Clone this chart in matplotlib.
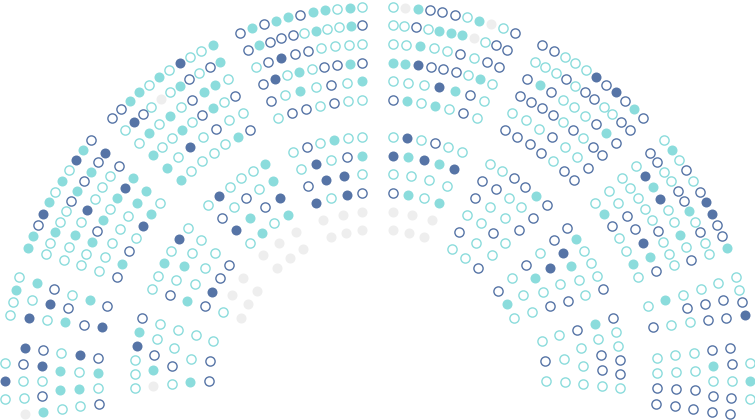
import numpy as np
import matplotlib.pyplot as plt

TEAL = "#8bdcdc"
NAVY = "#5674a6"
GREY = "#eeeeee"

# Seats per sector, outer row first, each row read left to right (clockwise).
# t / n = open teal / navy, T / N = filled teal / navy, g = vacant, . = no seat
outer_1 = [".tNt.", "gttnN", "TntNn", "tTTt", "tTtN", "ntTn"]
outer_2 = ["ttTt", "NtT", "tNn", "Tnt", "nT", "Nn"]
outer_3 = ["TTnNTtTtNTn", "ttTttnTnTnN", "ttTtNtttn", "ttTnTtTNT", "tttttTT", "nTntNTt"]
outer_4 = ["nnTTtTtNttT", "tNntgtTntnT", "tTtTtnTTt", "TttTtnTtn", "TtNtntt", "TttttTn"]
outer_5 = ["nTnTTnTTtTt", "nTnnntTttTn", "tnNnntttt", "nNtTtnnTn", "ntTtntT", "tnntntt"]
outer_6 = ["tgTnnntTgtn", "ttntTTTgtnn", "ttTttntnn", "TTNnnntTt", "tttNTnt", "nTtTtnt"]
outer_7 = ["nntttNnNnTn", "tttntnnttnn", "nTntttnTn", "nnnntntnn", "tttnttn", "nnnntnn"]
outer_8 = ["tTtntnNNnnT", "nnttnnTtntt", "tNTNttTtn", "tttttnttt", "ttnnNTn", "tTnttTt"]
outer_9 = ["ttnN", "tnn", "tnn", "tnt", "Tt", "tn"]
outer_10 = [".tTt.", "nntnn", "nTtnn", "ttnn", "ttnn", "ttnn"]

inner_1 = ["tttNTn", "gTntt", "tntt", "Ttt", "nnt"]
inner_2 = ["ttTtNt", "ntTtt", "Tttt", "nNnn", "tgg", "ggg"]
inner_3 = ["tNtttT", "ntntT", "NTnN", "tTtT", "ggg", "ggg"]
inner_4 = ["tntTtt", "tNtnT", "nNNt", "NtNn", "ggg", "ggg"]
inner_5 = ["tNtntt", "NTNTN", "tttt", "nTtT", "ggg", "ggg"]
inner_6 = ["ttnnTn", "nnttn", "nttn", "ttnt", "ntt", "ttn"]
inner_7 = ["nTtttn", "nNTtt", "tNtn", "nTtn", "ttt", "nTt"]
inner_8 = ["nttnnt", "Ttnnt", "nttt", "ttt", "tnt"]

outer_sectors = [outer_1, outer_2, outer_3, outer_4, outer_5,
                 outer_6, outer_7, outer_8, outer_9, outer_10]
inner_sectors = [inner_1, inner_2, inner_3, inner_4,
                 inner_5, inner_6, inner_7, inner_8]

# layout of the hemicycle (pixel units)
CX, CY = 377.5, 379.5
ROW_STEP = 18.6
PAD = 15.3
outer_bounds = [188.1, 172.4, 161.7, 137.8, 113.9, 90.0, 66.1, 42.2, 18.3, 7.6, -8.1]
inner_bounds = [185.6, 161.7, 137.8, 113.9, 90.0, 66.1, 42.2, 18.3, -5.6]


def place(sectors, bounds, r0, pts):
    for i, rows in enumerate(sectors):
        hi, lo = bounds[i], bounds[i + 1]
        for k, row in enumerate(rows):
            r = r0 - ROW_STEP * k
            d = np.degrees(PAD / r)
            n = len(row)
            ang = np.linspace(hi - d, lo + d, n) if n > 1 else [(hi + lo) / 2]
            for code, a in zip(row, ang):
                if code == ".":
                    continue
                a = np.radians(a)
                pts.setdefault(code, []).append((CX + r * np.cos(a), CY - r * np.sin(a)))


pts = {}
place(outer_sectors, outer_bounds, 373.0, pts)
place(inner_sectors, inner_bounds, 243.0, pts)

fig = plt.figure(figsize=(7.55, 4.2), dpi=100)
ax = fig.add_axes([0, 0, 1, 1])
ax.set_xlim(0, 755)
ax.set_ylim(420, 0)
ax.axis("off")

styles = {
    "T": dict(s=52, c=TEAL, linewidths=0),
    "N": dict(s=52, c=NAVY, linewidths=0),
    "g": dict(s=52, c=GREY, linewidths=0),
    "t": dict(s=44, facecolors="white", edgecolors=TEAL, linewidths=1.0),
    "n": dict(s=44, facecolors="white", edgecolors=NAVY, linewidths=1.0),
}
for code, xy in pts.items():
    xy = np.array(xy)
    ax.scatter(xy[:, 0], xy[:, 1], **styles[code])

fig.savefig("out.png", dpi=100, facecolor="white")
plt.close(fig)
